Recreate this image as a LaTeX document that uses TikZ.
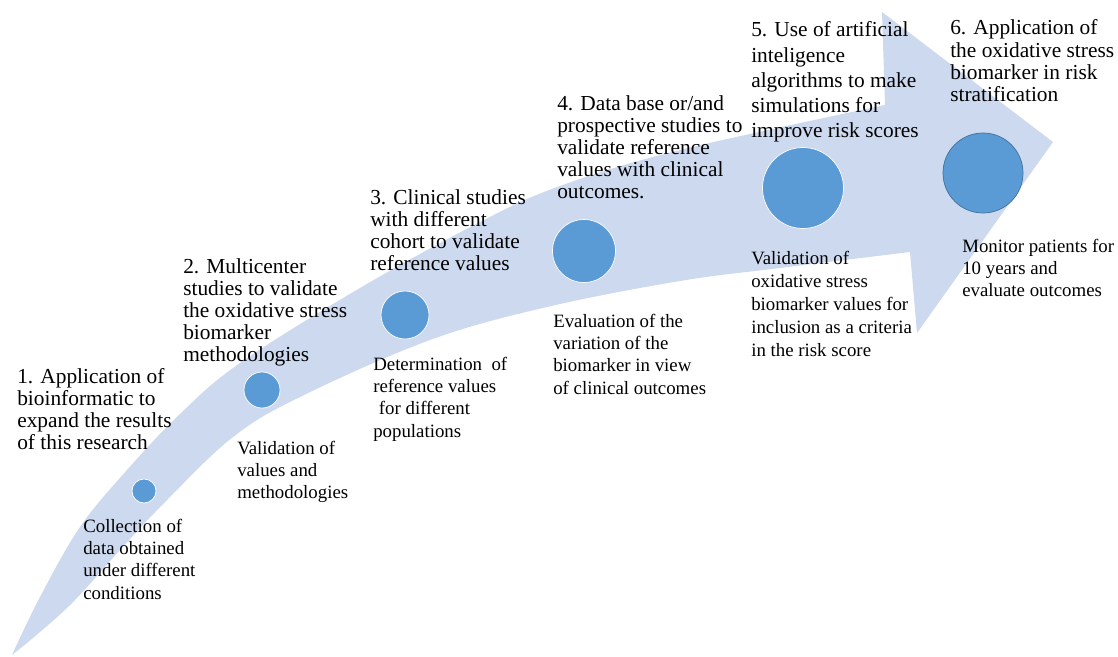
\documentclass[tikz,border=0pt]{standalone}
\usepackage{fontspec}
\setmainfont{Liberation Serif}
\usetikzlibrary{positioning}

\definecolor{bandblue}{RGB}{205,217,238}
\definecolor{dotblue}{RGB}{91,155,213}
\definecolor{dotedge}{RGB}{65,113,156}

% lines of a label, first baseline on the node's base
\newcommand{\stacked}[1]{\begin{tabular}[t]{@{}l@{}}#1\end{tabular}}
\newcommand{\headfont}{\fontsize{15.2}{15.7}\selectfont}
\newcommand{\notefont}{\fontsize{13.4}{15.9}\selectfont}

\tikzset{
  band/.style={fill=bandblue},
  dot/.style={circle, fill=dotblue, draw=white, line width=0.5pt, inner sep=0pt},
  headline/.style={anchor=base west, inner sep=0pt, font=\headfont},
  noteline/.style={anchor=base west, inner sep=0pt, font=\notefont}
}

\begin{document}
\begin{tikzpicture}[x=0.025cm, y=-0.025cm]
    \useasboundingbox (0,0) rectangle (1118,657);
    % curved arrow behind everything
    \fill[band] plot[smooth, tension=0.6] coordinates {(12,655) (40,597) (80,527) (127,470) (180,414) (240,363) (360,288) (480,222) (560,186) (680,150) (885,105)}
      -- (882,12) -- (1053,142) -- (917,333) -- (910,252)
      -- plot[smooth, tension=0.6] coordinates {(910,252) (780,268) (680,281) (547,307) (430,340) (300,397) (233,437) (167,500) (120,550) (75,600) (40,632) (12,655)}
      -- cycle;

    % growing dots along the arrow
    \node[dot, minimum size=0.6cm] (c1) at (144,491) {};
    \node[dot, minimum size=0.9cm] (c2) at (262,390) {};
    \node[dot, minimum size=1.2cm] (c3) at (405,315) {};
    \node[dot, minimum size=1.575cm] (c4) at (584,251) {};
    \node[dot, minimum size=2.025cm] (c5) at (803,188) {};
    \node[dot, draw=dotedge, minimum size=2cm] (c6) at (983,173) {};

    % step titles
    \node[headline] (h1) at (17,383) {\stacked{1. Application of\\bioinformatic to\\expand the results\\of this research}};
    \node[headline] (h2) at (183,273) {\stacked{2. Multicenter\\studies to validate\\the oxidative stress\\biomarker\\methodologies}};
    \node[headline] (h3) at (370,204) {\stacked{3. Clinical studies\\with different\\cohort to validate\\reference values}};
    \node[headline] (h4) at (557,110) {\stacked{4. Data base or/and\\prospective studies to\\validate reference\\values with clinical\\outcomes.}};
    \node[headline, font=\fontsize{15.2}{17.8}\selectfont] (h5) at (751,37) {\stacked{5. Use of artificial\\inteligence\\algorithms to make\\simulations for\\improve risk scores}};
    \node[headline] (h6) at (950,35) {\stacked{6. Application of\\the oxidative stress\\biomarker in risk\\stratification}};

    % notes under the dots
    \node[noteline] (n1) at (83,532) {\stacked{Collection of\\data obtained\\under different\\conditions}};
    \node[noteline] (n2) at (237,454) {\stacked{Validation of\\values and\\methodologies}};
    \node[noteline] (n3) at (373,370) {\stacked{Determination\ \ of\\reference values\\\hspace{0.3em}for different\\populations}};
    \node[noteline] (n4) at (553,327) {\stacked{Evaluation of the\\variation of the\\biomarker in view\\of clinical outcomes}};
    \node[noteline, font=\fontsize{13.4}{16.4}\selectfont] (n5) at (751,264) {\stacked{Validation of\\oxidative stress\\biomarker values for\\inclusion as a criteria\\in the risk score}};
    \node[noteline] (n6) at (962,252) {\stacked{Monitor patients for\\10 years and\\evaluate outcomes}};
\end{tikzpicture}
\end{document}
